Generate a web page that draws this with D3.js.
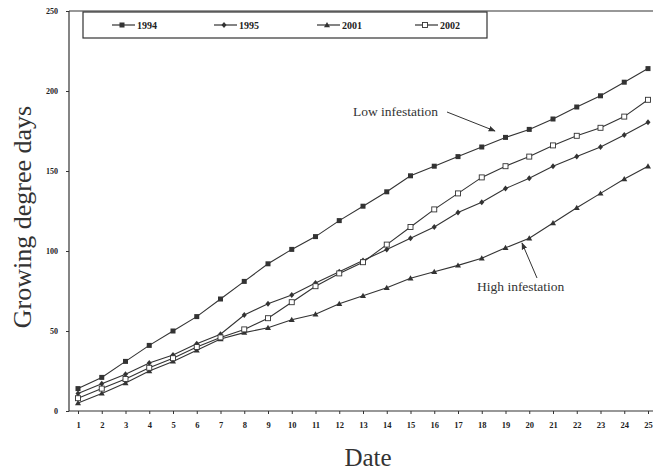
<!DOCTYPE html>
<html lang="en">
<head>
  <meta charset="UTF-8">
  <title>Growing degree days</title>
  <style>
    body { margin: 0; background: #fff; }
    text { font-family: "Liberation Serif", "DejaVu Serif", serif; }
  </style>
</head>
<body>
  <div id="chart"></div>
  <script src="https://d3js.org/d3.v7.min.js"></script>
  <script>
    const width = 653
    const height = 471

    // data
    const days = d3.range(1, 26)
    const yTicks = [0, 50, 100, 150, 200, 250]
    const years = ['1994', '1995', '2001', '2002']
    const gdd1994 = [14, 21, 31, 41, 50, 59, 70, 81, 92, 101, 109, 119, 128, 137, 147, 153, 159, 165, 171, 176, 182.5, 190, 197, 205.5, 214]
    const gdd1995 = [11, 17, 23, 30, 35, 42, 48, 60, 67, 72.5, 80, 87, 94, 101, 108, 115, 124, 130.5, 139, 145.5, 153, 159, 165, 172.5, 180.5]
    const gdd2001 = [5, 11, 17.5, 25, 31, 38, 45, 49, 52, 57, 60.5, 67, 72, 77, 83, 87, 91, 95.5, 102, 108, 117.5, 127, 136, 145, 153]
    const gdd2002 = [8, 14, 20, 27, 33, 40, 46, 51, 58, 68, 78, 86, 93, 104, 115, 126, 136, 146, 153, 159, 166, 172, 177, 184, 194.5]

    const series = [
      { name: years[0], values: gdd1994, marker: 'square' },
      { name: years[1], values: gdd1995, marker: 'dot' },
      { name: years[2], values: gdd2001, marker: 'triangle' },
      { name: years[3], values: gdd2002, marker: 'open' }
    ]

    const svg = d3.select('#chart').append('svg')
      .attr('width', width)
      .attr('height', height)

    const x = d3.scaleLinear().domain([1, 25]).range([78, 648])
    const y = d3.scaleLinear().domain([0, 250]).range([411, 11])
    const ink = '#333'

    // frame: left, bottom and top lines
    svg.append('line').attr('x1', 69).attr('x2', 69).attr('y1', y(250)).attr('y2', y(0))
      .attr('stroke', ink).attr('stroke-width', 1.2)
    svg.append('line').attr('x1', 69).attr('x2', width).attr('y1', y(0)).attr('y2', y(0))
      .attr('stroke', ink).attr('stroke-width', 1.2)
    svg.append('line').attr('x1', 69).attr('x2', width).attr('y1', y(250)).attr('y2', y(250))
      .attr('stroke', ink).attr('stroke-width', 1.2)

    // y axis
    const yAxis = d3.axisLeft(y).tickValues(yTicks).tickSize(3).tickPadding(8)
    const gy = svg.append('g').attr('transform', 'translate(69,0)').call(yAxis)
    gy.select('.domain').remove()
    gy.selectAll('line').attr('stroke', ink)
    gy.selectAll('text').attr('font-size', 8).attr('font-weight', 'bold').attr('fill', '#222')
      .style('font-family', '"Liberation Serif", serif')

    // x axis
    const xAxis = d3.axisBottom(x).tickValues(days).tickSize(3).tickPadding(8)
    const gx = svg.append('g').attr('transform', `translate(0,${y(0)})`).call(xAxis)
    gx.select('.domain').remove()
    gx.selectAll('line').attr('stroke', ink)
    gx.selectAll('text').attr('font-size', 8.5).attr('font-weight', 'bold').attr('fill', '#222')
      .style('font-family', '"Liberation Serif", serif')

    // axis titles
    svg.append('text')
      .attr('transform', 'translate(31,217) rotate(-90)')
      .attr('text-anchor', 'middle')
      .attr('font-size', 26)
      .attr('fill', '#333')
      .text('Growing degree days')
    svg.append('text')
      .attr('x', 368).attr('y', 466)
      .attr('text-anchor', 'middle')
      .attr('font-size', 25)
      .attr('fill', '#333')
      .text('Date')

    function drawMarker(g, kind, cx, cy) {
      if (kind === 'square') {
        g.append('rect').attr('x', cx - 2.5).attr('y', cy - 2.5).attr('width', 5).attr('height', 5)
          .attr('fill', ink)
      } else if (kind === 'dot') {
        g.append('path').attr('d', `M${cx},${cy - 3}L${cx + 2.5},${cy}L${cx},${cy + 3}L${cx - 2.5},${cy}Z`)
          .attr('fill', ink)
      } else if (kind === 'triangle') {
        g.append('path').attr('d', `M${cx},${cy - 3}L${cx + 3},${cy + 2.2}L${cx - 3},${cy + 2.2}Z`)
          .attr('fill', ink)
      } else {
        g.append('rect').attr('x', cx - 2.5).attr('y', cy - 2.5).attr('width', 5).attr('height', 5)
          .attr('fill', '#fff').attr('stroke', ink).attr('stroke-width', 0.9)
      }
    }

    const line = d3.line()
      .x((d, i) => x(days[i]))
      .y(d => y(d))

    series.forEach(s => {
      const g = svg.append('g')
      g.append('path')
        .datum(s.values)
        .attr('d', line)
        .attr('fill', 'none')
        .attr('stroke', ink)
        .attr('stroke-width', 1.1)
      s.values.forEach((v, i) => drawMarker(g, s.marker, x(days[i]), y(v)))
    })

    // legend
    const legend = svg.append('g')
    legend.append('rect')
      .attr('x', 83).attr('y', 12).attr('width', 404).attr('height', 26)
      .attr('fill', '#fff').attr('stroke', ink).attr('stroke-width', 1.2)
    const legendX = [112, 214, 317, 415]
    series.forEach((s, i) => {
      const lx = legendX[i]
      legend.append('line').attr('x1', lx).attr('x2', lx + 23).attr('y1', 25).attr('y2', 25)
        .attr('stroke', ink).attr('stroke-width', 1.2)
      drawMarker(legend, s.marker, lx + 10, 25)
      legend.append('text')
        .attr('x', lx + 25).attr('y', 28.5)
        .attr('font-size', 10).attr('font-weight', 'bold').attr('fill', '#222')
        .text(s.name)
    })

    // annotations
    svg.append('defs').append('marker')
      .attr('id', 'arrow')
      .attr('viewBox', '0 0 10 10')
      .attr('refX', 9).attr('refY', 5)
      .attr('markerWidth', 7).attr('markerHeight', 7)
      .attr('orient', 'auto')
      .append('path').attr('d', 'M0,1L10,5L0,9Z').attr('fill', ink)

    svg.append('text')
      .attr('x', 438).attr('y', 116)
      .attr('text-anchor', 'end')
      .attr('font-size', 13.5).attr('fill', '#333')
      .text('Low infestation')
    svg.append('line')
      .attr('x1', 447).attr('y1', 112).attr('x2', 495).attr('y2', 131)
      .attr('stroke', ink).attr('stroke-width', 1).attr('marker-end', 'url(#arrow)')

    svg.append('text')
      .attr('x', 477).attr('y', 291)
      .attr('font-size', 13.5).attr('fill', '#333')
      .text('High infestation')
    svg.append('line')
      .attr('x1', 537).attr('y1', 278).attr('x2', 522).attr('y2', 243)
      .attr('stroke', ink).attr('stroke-width', 1).attr('marker-end', 'url(#arrow)')
  </script>
</body>
</html>
